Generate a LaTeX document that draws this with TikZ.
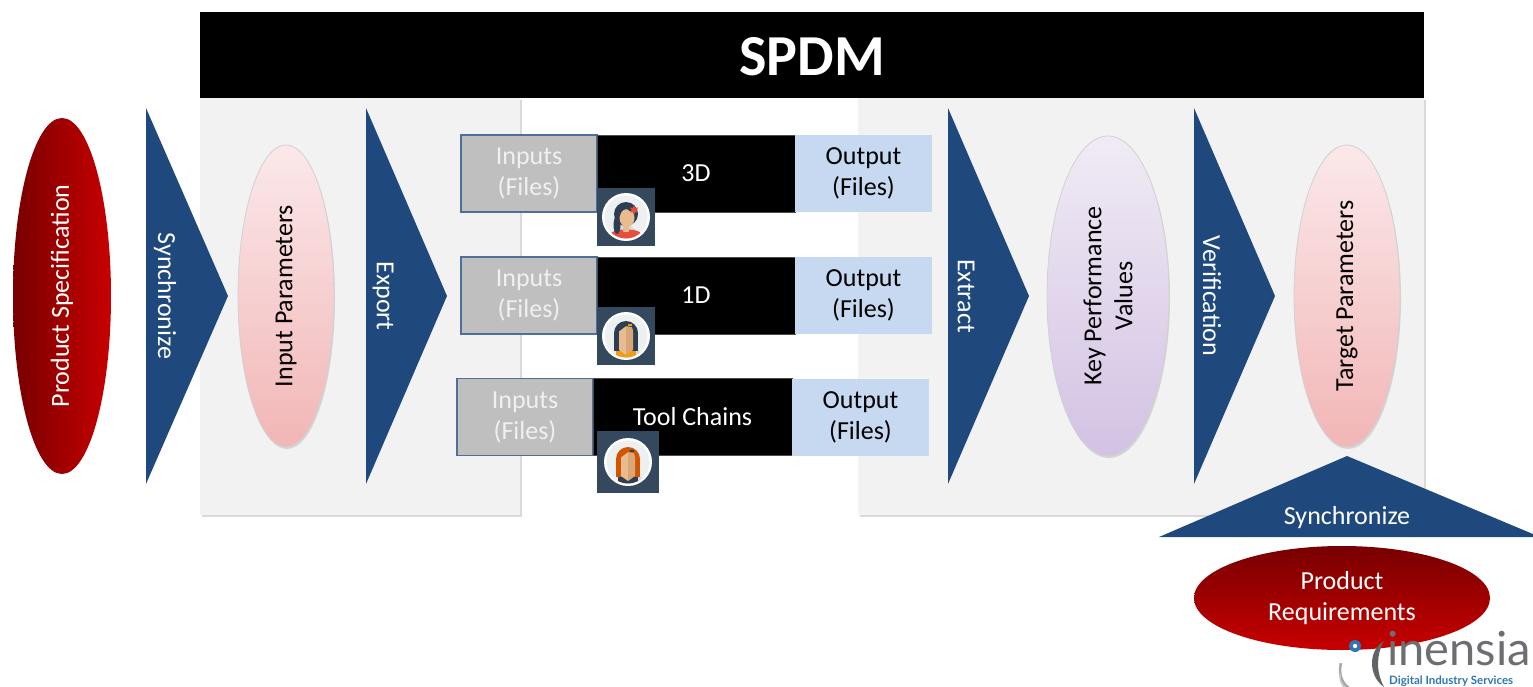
\documentclass[tikz,border=0pt]{standalone}
\usepackage{fontspec}
\setmainfont{Carlito}
\newfontfamily\logofont{Lato}
\usetikzlibrary{shapes.geometric,shadows}

\definecolor{navy}{HTML}{1F497D}
\definecolor{panel}{HTML}{F2F2F2}
\definecolor{ingray}{HTML}{BFBFBF}
\definecolor{inborder}{HTML}{4E6F98}
\definecolor{outblue}{HTML}{C6D9F1}
\definecolor{reddark}{HTML}{780000}
\definecolor{redbright}{HTML}{C80000}
\definecolor{pinktop}{HTML}{FBE8EA}
\definecolor{pinkbot}{HTML}{F2B6B6}
\definecolor{lavtop}{HTML}{F0EBF5}
\definecolor{lavbot}{HTML}{D3C2E3}
\definecolor{avbg}{HTML}{34495E}
\definecolor{avlight}{HTML}{ECF0F1}
\definecolor{avshade}{HTML}{D5DBDD}
\definecolor{skin}{HTML}{E8BC8E}
\definecolor{skindark}{HTML}{D9A677}
\definecolor{hairdark}{HTML}{2C3E50}
\definecolor{hairred}{HTML}{D35400}
\definecolor{flower}{HTML}{E74C3C}
\definecolor{collar}{HTML}{F39C12}
\definecolor{logogray}{HTML}{6D6E71}
\definecolor{logoblue}{HTML}{2E75B6}

\tikzset{
  txt/.style={font=\fontsize{26}{31}\selectfont, align=center, inner sep=0pt},
  arrowtxt/.style={txt, text=white, rotate=-90},
  elltxt/.style={txt, text=black, rotate=90},
  ellbase/.style={ellipse, inner sep=0pt, draw=black!18, line width=0.8pt,
    drop shadow={shadow xshift=1pt, shadow yshift=-2pt, opacity=0.25}},
  pinkell/.style={ellbase, top color=pinktop, bottom color=pinkbot},
  inbox/.style={txt, draw=inborder, line width=1.4pt, fill=ingray, text=white!94!black,
    minimum width=136pt, minimum height=77pt},
  corebox/.style={txt, fill=black, draw=black!70, line width=0.6pt, text=white,
    minimum width=198pt, minimum height=77pt},
  outbox/.style={txt, fill=outblue, text=black, minimum width=137pt, minimum height=77pt},
  panelbox/.style={fill=panel, drop shadow={shadow xshift=2pt, shadow yshift=-2pt, opacity=0.3}},
}

% avatar frame: dark square with a white ring around a light disc
\newcommand\avframe[1]{%
  \fill[avbg] (-#1pt,-#1pt) rectangle (#1pt,#1pt);
  \fill[white] (0,0) circle (24pt);
  \fill[avlight] (0,0) circle (21.5pt);
}
% long-haired figure, hair colour #1, collar colour #2, pin colour #3
\newcommand\avlong[3]{%
  \begin{scope}
    \clip (0,0) circle (21.5pt);
    \fill[avshade] (-12,3) -- (-12,-14) -- (20,-46) -- (20,-20) -- cycle;
    \fill[#2] (-10,-26) rectangle (10,-13);
    \fill[#1] (-12,-15) rectangle (12,3);
    \fill[#1] (0,3) circle (12pt);
    \fill[skin] (-7,-14) -- (-7,4) .. controls (-7,12) and (0,12) .. (0,12) -- (0,-19) -- cycle;
    \fill[skindark] (7,-14) -- (7,4) .. controls (7,12) and (0,12) .. (0,12) -- (0,-19) -- cycle;
    \fill[#1] (-8,4) .. controls (-6,14) and (3,14) .. (6,9) -- (0,10) -- cycle;
    \fill[#3] (2,10) rectangle (6,12);
  \end{scope}
}

\begin{document}
\begin{tikzpicture}[x=1pt, y=-1pt]
\useasboundingbox (0,0) rectangle (1533,687);
\clip (0,0) rectangle (1533,687);

% grey panels behind the pipeline
\path[panelbox] (200,98) rectangle (520,515);
\path[panelbox] (858,98) rectangle (1424,515);

% title bar
\fill[black] (200,12) rectangle (1424,98);
\node[text=white, font=\fontsize{58}{60}\selectfont\bfseries, inner sep=0pt] (title) at (812,57) {SPDM};

% left source ellipse
\node[ellipse, inner sep=0pt, minimum width=98pt, minimum height=356pt,
      left color=reddark, right color=redbright] (spec) at (62,296) {};
\node[txt, text=white, rotate=90] (spectxt) at (spec.center) {Product Specification};

% process arrows
\fill[navy] (146,108) -- (146,484) -- (228,296) -- cycle;
\node[arrowtxt] (sync1) at (165,296) {Synchronize};
\fill[navy] (366,108) -- (366,484) -- (447,296) -- cycle;
\node[arrowtxt] (export) at (383,296) {Export};
\fill[navy] (948,108) -- (948,484) -- (1029,296) -- cycle;
\node[arrowtxt] (extract) at (966,296) {Extract};
\fill[navy] (1194,108) -- (1194,484) -- (1275,296) -- cycle;
\node[arrowtxt] (verif) at (1212,296) {Verification};

% parameter ellipses
\node[pinkell, minimum width=96pt, minimum height=302pt] (inpar) at (286,296) {};
\node[elltxt] (inpartxt) at (inpar.center) {Input Parameters};
\node[ellbase, top color=lavtop, bottom color=lavbot, minimum width=122pt, minimum height=320pt] (kpv) at (1108,296) {};
\node[elltxt] (kpvtxt) at (kpv.center) {Key Performance\\Values};
\node[pinkell, minimum width=106pt, minimum height=302pt] (tgt) at (1347,296) {};
\node[elltxt] (tgttxt) at (tgt.center) {Target Parameters};

% simulation rows
\node[inbox] (in1) at (529,173.5) {Inputs\\(Files)};
\node[corebox] (core1) at (696,173.5) {3D};
\node[outbox] (out1) at (863.5,173.5) {Output\\(Files)};

\node[inbox] (in2) at (529,295.5) {Inputs\\(Files)};
\node[corebox] (core2) at (696,295.5) {1D};
\node[outbox] (out2) at (863.5,295.5) {Output\\(Files)};

\node[inbox] (in3) at (525,417) {Inputs\\(Files)};
\node[corebox, minimum width=199pt] (core3) at (692.5,417) {Tool Chains};
\node[outbox] (out3) at (860.5,417) {Output\\(Files)};

% avatars
\begin{scope}[shift={(626,217)}, yscale=-1]
  \avframe{29}
  \begin{scope}
    \clip (0,0) circle (21.5pt);
    \fill[avshade] (-12,3) -- (-12,-14) -- (20,-46) -- (20,-20) -- cycle;
    \fill[flower] (-15,-26) -- (-15,-17) .. controls (-15,-11) and (15,-11) .. (15,-17) -- (15,-26) -- cycle;
    \fill[skin] (-3,-15) rectangle (3,-7);
    \fill[hairdark] (0,3) circle (12pt);
    \fill[hairdark] (-9,-8) ellipse (3.5pt and 9pt);
    \fill[skin] (1,-1) ellipse (7.5pt and 9pt);
    \fill[hairdark] (-11,3) .. controls (-9,17) and (10,17) .. (11,4) -- (4,6) .. controls (0,10) and (-5,8) .. (-6,1) -- cycle;
  \end{scope}
  \node[star, star points=6, star point ratio=2.2, fill=flower, minimum size=10pt, inner sep=0pt] (flw) at (8,7) {};
\end{scope}

\begin{scope}[shift={(626,336)}, yscale=-1]
  \avframe{29}
  \avlong{hairdark}{collar}{collar}
\end{scope}

\begin{scope}[shift={(628,462)}, yscale=-1]
  \avframe{31}
  \avlong{hairred}{hairdark}{hairdark}
\end{scope}

% lower synchronisation and requirement source
\fill[navy] (1347,456) -- (1540,537) -- (1159,537) -- cycle;
\node[txt, text=white] (sync2) at (1347,518) {Synchronize};
\node[ellipse, inner sep=0pt, minimum width=296pt, minimum height=104pt,
      top color=reddark, bottom color=redbright] (req) at (1342,598) {};
\node[txt, text=white] (reqtxt) at (req.center) {Product\\Requirements};

% company mark
\begin{scope}
  \draw[logogray!60, line width=2.5pt] (1356,690) arc (-90:-200:16pt and 20pt);
  \draw[logogray!40, line width=1.5pt] (1349,689) arc (-90:-190:9pt and 13pt);
  \fill[logoblue] (1355,646) circle (6pt);
  \fill[white] (1355,646) circle (2.2pt);
  \fill[logogray!90!black] (1384,641) .. controls (1368,650) and (1368,676) .. (1384,687) .. controls (1376,672) and (1376,655) .. cycle;
\end{scope}
\node[anchor=base west, text=logogray, font=\logofont\fontsize{47}{47}\selectfont, inner sep=0pt] (logo) at (1387,665) {inensia};
\node[anchor=base west, text=logoblue, font=\logofont\bfseries\fontsize{11.5}{12}\selectfont, inner sep=0pt] (logosub) at (1389,684) {Digital Industry Services};
\end{tikzpicture}
\end{document}
